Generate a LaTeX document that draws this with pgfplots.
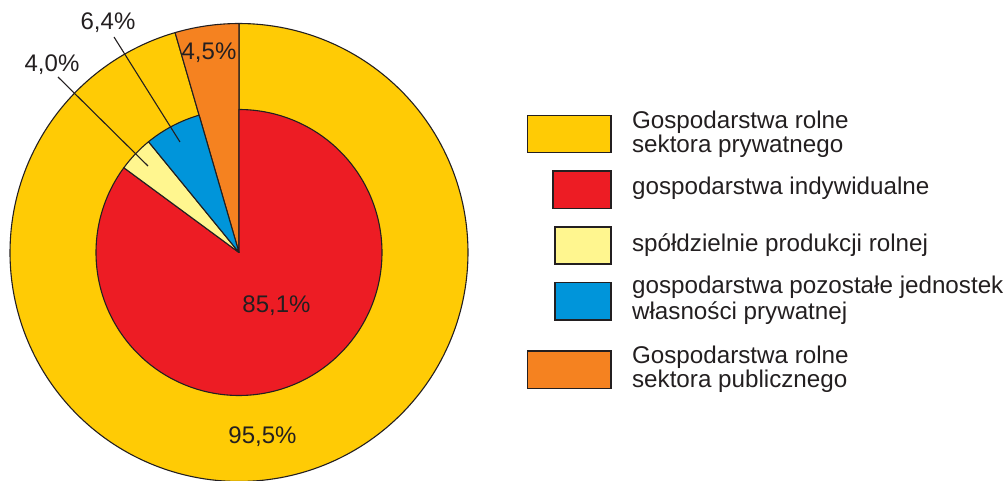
\documentclass[border=0pt]{standalone}
\usepackage{pgfplots}
\pgfplotsset{compat=1.18}
\usepackage{fontspec}
\setmainfont{Liberation Sans}
\definecolor{cYel}{HTML}{FFCB05}
\definecolor{cRed}{HTML}{ED1C24}
\definecolor{cLight}{HTML}{FFF68F}
\definecolor{cBlue}{HTML}{0095DA}
\definecolor{cOrange}{HTML}{F58220}
\definecolor{cLine}{HTML}{231F20}
% data (percent)
\def\vOrange{4.5}
\def\vBlue{6.4}
\def\vLight{4.0}
\def\vRed{85.1}
\def\vYellow{95.5}
% geometry (pixel units)
\def\cx{239}
\def\cy{252.5}
\def\Rout{229}
\def\Rin{143}
\begin{document}
\begin{tikzpicture}
\pgfmathsetmacro{\aA}{90}
\pgfmathsetmacro{\aB}{\aA+3.6*\vOrange}
\pgfmathsetmacro{\aC}{\aB+3.6*\vBlue}
\pgfmathsetmacro{\aD}{\aC+3.6*\vLight}
\pgfmathsetmacro{\aE}{\aD+3.6*\vRed}
\pgfmathsetmacro{\aY}{\aB+3.6*\vYellow}
\begin{axis}[
  scale only axis, width=504pt, height=240.5pt,
  xmin=0, xmax=1008, ymin=0, ymax=481, y dir=reverse,
  hide axis, clip=true,
  every axis plot/.append style={draw=cLine, line width=0.55pt, line join=round, mark=none},
]
\path (rel axis cs:0,0) rectangle (rel axis cs:1,1);
% outer ring
\addplot[fill=cYel, domain=\aB:\aY, samples=240, variable=\t]
  ({\cx+\Rout*cos(\t)},{\cy-\Rout*sin(\t)}) -- (axis cs:\cx,\cy) -- cycle;
\addplot[fill=cOrange, domain=\aA:\aB, samples=20, variable=\t]
  ({\cx+\Rout*cos(\t)},{\cy-\Rout*sin(\t)}) -- (axis cs:\cx,\cy) -- cycle;
% inner pie
\addplot[fill=cRed, domain=\aD:\aE, samples=240, variable=\t]
  ({\cx+\Rin*cos(\t)},{\cy-\Rin*sin(\t)}) -- (axis cs:\cx,\cy) -- cycle;
\addplot[fill=cLight, domain=\aC:\aD, samples=20, variable=\t]
  ({\cx+\Rin*cos(\t)},{\cy-\Rin*sin(\t)}) -- (axis cs:\cx,\cy) -- cycle;
\addplot[fill=cBlue, domain=\aB:\aC, samples=20, variable=\t]
  ({\cx+\Rin*cos(\t)},{\cy-\Rin*sin(\t)}) -- (axis cs:\cx,\cy) -- cycle;
% leader lines
\draw[cLine, line width=0.55pt] (axis cs:114,37) -- (axis cs:180,142);
\draw[cLine, line width=0.55pt] (axis cs:58,77) -- (axis cs:148,166);
% pie labels
\begin{scope}[every node/.style={font=\fontsize{12}{14}\selectfont, text=cLine, anchor=base, inner sep=0pt}]
\node at (axis cs:108,29.3) {6,4\%};
\node at (axis cs:52,71.7) {4,0\%};
\node at (axis cs:209,59.3) {4,5\%};
\node at (axis cs:276.5,313) {85,1\%};
\node at (axis cs:262.5,443.3) {95,5\%};
\end{scope}
% legend
\begin{scope}[cLine, line width=0.6pt]
\draw[fill=cYel] (axis cs:527.5,115.7) rectangle (axis cs:611,152.7);
\draw[fill=cRed] (axis cs:553,171) rectangle (axis cs:611,208.3);
\draw[fill=cLight] (axis cs:555,227) rectangle (axis cs:611,264);
\draw[fill=cBlue] (axis cs:555,282.7) rectangle (axis cs:611,320);
\draw[fill=cOrange] (axis cs:527.5,351) rectangle (axis cs:611,388.3);
\end{scope}
\begin{scope}[every node/.style={font=\fontsize{12.1}{14}\selectfont, text=cLine, anchor=base west, inner sep=0pt}]
\node at (axis cs:631.7,129) {Gospodarstwa rolne};
\node at (axis cs:631.7,153) {sektora prywatnego};
\node at (axis cs:631.7,195) {gospodarstwa indywidualne};
\node at (axis cs:631.7,251) {spółdzielnie produkcji rolnej};
\node at (axis cs:631.7,293) {gospodarstwa pozostałe jednostek};
\node at (axis cs:631.7,320) {własności prywatnej};
\node at (axis cs:631.7,363.5) {Gospodarstwa rolne};
\node at (axis cs:631.7,387.5) {sektora publicznego};
\end{scope}
\end{axis}
\end{tikzpicture}
\end{document}
